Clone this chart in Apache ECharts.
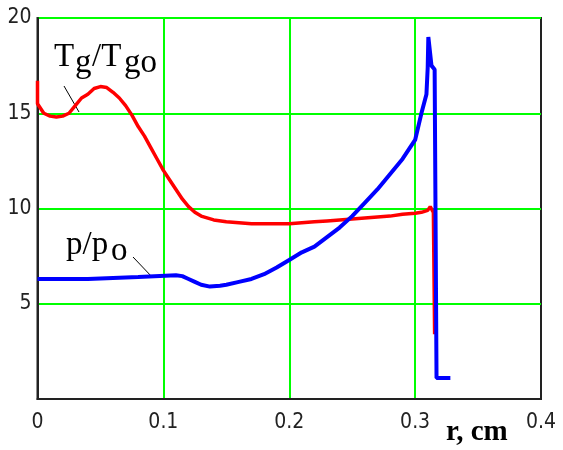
<!DOCTYPE html>
<html><head><meta charset="utf-8">
<script src="https://cdn.jsdelivr.net/npm/echarts@6/dist/echarts.min.js"></script>
<style>html,body{margin:0;padding:0;background:#fff}#c{width:563px;height:450px}</style>
</head><body><div id="c"></div>
<script>
// r (cm) and Tg/Tg0
const rT = [0, 0, 0.005, 0.01, 0.015, 0.02, 0.025, 0.03, 0.035, 0.04, 0.045, 0.05, 0.055, 0.06, 0.065, 0.07, 0.075, 0.08, 0.085, 0.09, 0.095, 0.1, 0.105, 0.11, 0.115, 0.12, 0.125, 0.13, 0.14, 0.15, 0.16, 0.17, 0.18, 0.19, 0.2, 0.21, 0.22, 0.23, 0.24, 0.25, 0.26, 0.27, 0.28, 0.29, 0.3, 0.305, 0.31, 0.312, 0.3145, 0.3155];
const tgVals = [16.7, 15.5, 15.0, 14.85, 14.8, 14.85, 15.0, 15.4, 15.8, 16.0, 16.3, 16.4, 16.35, 16.1, 15.8, 15.4, 14.9, 14.3, 13.8, 13.2, 12.6, 12.0, 11.5, 11.0, 10.5, 10.1, 9.8, 9.6, 9.4, 9.3, 9.25, 9.2, 9.2, 9.2, 9.2, 9.25, 9.3, 9.35, 9.4, 9.45, 9.5, 9.55, 9.6, 9.7, 9.75, 9.8, 9.9, 10.1, 9.8, 3.4];
// r (cm) and p/p0
const rP = [0, 0.04, 0.041, 0.08, 0.081, 0.11, 0.115, 0.12, 0.125, 0.13, 0.137, 0.145, 0.15, 0.16, 0.17, 0.18, 0.19, 0.2, 0.21, 0.22, 0.23, 0.24, 0.25, 0.26, 0.27, 0.28, 0.29, 0.3, 0.305, 0.309, 0.31, 0.3105, 0.312, 0.313, 0.3155, 0.317, 0.328];
const pVals = [6.3, 6.3, 6.4, 6.4, 6.5, 6.5, 6.45, 6.3, 6.15, 6.0, 5.9, 5.95, 6.0, 6.15, 6.3, 6.55, 6.9, 7.3, 7.7, 8.0, 8.5, 9.0, 9.6, 10.3, 11.0, 11.8, 12.6, 13.6, 15.0, 16.0, 17.4, 19.0, 19.0, 17.5, 17.3, 1.1, 1.1];
const xTicks = ['0', '0.1', '0.2', '0.3', '0.4'];
const yTicks = ['', '5', '10', '15', '20'];

const tgData = rT.map((r, i) => [r, tgVals[i]]);
const pData = rP.map((r, i) => [r, pVals[i]]);

const chart = echarts.init(document.getElementById('c'), null, {renderer: 'canvas'});
const serif = '"Liberation Serif","Times New Roman",serif';
const lbl = {color: '#222', fontFamily: '"Liberation Sans Narrow","DejaVu Sans Condensed",sans-serif', fontSize: 21};
chart.setOption({
  animation: false,
  grid: {left: 37.5, right: 22, top: 18, bottom: 51, show: true, borderColor: '#222', borderWidth: 2, backgroundColor: 'transparent'},
  xAxis: {
    type: 'value', min: 0, max: 0.4, interval: 0.1,
    axisLine: {show: true, onZero: false, lineStyle: {color: '#222', width: 2}},
    axisTick: {show: false},
    axisLabel: Object.assign({margin: 13, formatter: (v) => xTicks[Math.round(v * 10)]}, lbl),
    splitLine: {show: true, showMinLine: false, showMaxLine: false, lineStyle: {color: '#00ff00', width: 2}}
  },
  yAxis: {
    type: 'value', min: 0, max: 20, interval: 5,
    axisLine: {show: true, onZero: false, lineStyle: {color: '#222', width: 2}},
    axisTick: {show: false},
    axisLabel: Object.assign({margin: 6, formatter: (v) => yTicks[Math.round(v / 5)]}, lbl),
    splitLine: {show: true, showMinLine: false, lineStyle: {color: '#00ff00', width: 2}}
  },
  series: [
    {type: 'line', data: tgData, showSymbol: false, lineStyle: {color: '#ff0000', width: 3.5}, z: 3},
    {type: 'line', data: pData, showSymbol: false, lineStyle: {color: '#0000ff', width: 4}, z: 4}
  ],
  graphic: [
    {type: 'text', left: 54, top: 41, style: {text: 'T', font: '33px ' + serif, fill: '#000'}},
    {type: 'text', left: 75, top: 47, style: {text: 'g', font: '33px ' + serif, fill: '#000'}},
    {type: 'text', left: 92, top: 41, style: {text: '/T', font: '33px ' + serif, fill: '#000'}},
    {type: 'text', left: 124, top: 47, style: {text: 'go', font: '33px ' + serif, fill: '#000'}},
    {type: 'line', shape: {x1: 64, y1: 86, x2: 79, y2: 112}, style: {stroke: '#000', lineWidth: 1}},
    {type: 'text', left: 66, top: 229, style: {text: 'p/p', font: '33px ' + serif, fill: '#000'}},
    {type: 'text', left: 111, top: 235, style: {text: 'o', font: '33px ' + serif, fill: '#000'}},
    {type: 'line', shape: {x1: 133, y1: 257, x2: 153, y2: 278}, style: {stroke: '#000', lineWidth: 1}},
    {type: 'text', left: 446, top: 418, style: {text: 'r, cm', font: 'bold 29px ' + serif, fill: '#000'}}
  ]
});
</script></body></html>
